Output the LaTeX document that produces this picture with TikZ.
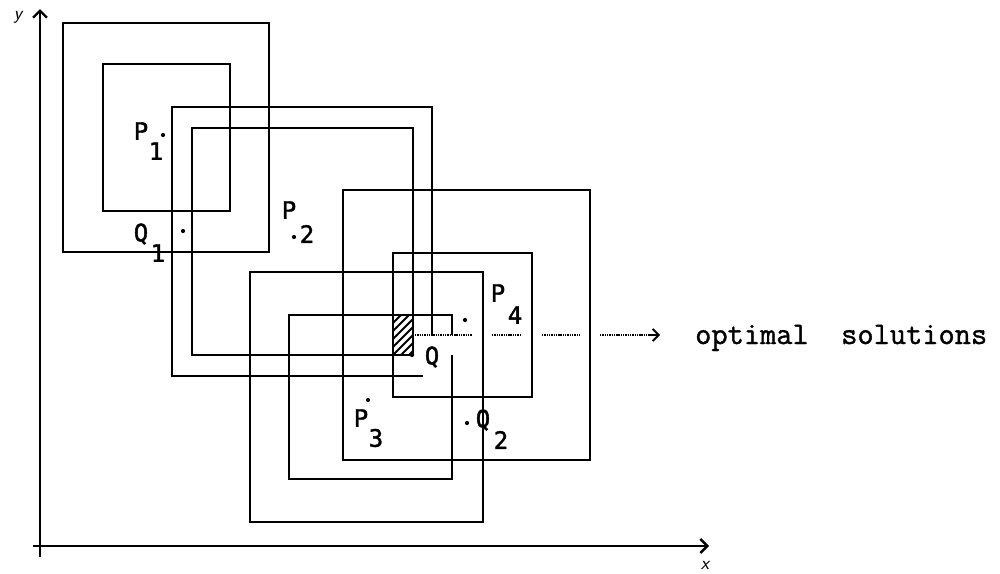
\documentclass[tikz,border=0pt]{standalone}
\usepackage{fontspec}
\newfontfamily\lblfont[FakeBold=1.6]{DejaVu Sans Mono}
\newfontfamily\optfont[FakeBold=1.2]{Latin Modern Mono}
\usetikzlibrary{arrows.meta,calc}
\begin{document}
\begin{tikzpicture}[x=1pt,y=-1pt,
  box/.style={draw,line width=2.4pt,line join=miter},
  lbl/.style={font=\lblfont\fontsize{24}{24}\selectfont,inner sep=0pt},
  dotpt/.style={circle,fill,inner sep=0pt,minimum size=4.2pt},
  axis/.style={line width=2.6pt,-{Straight Barb[length=7pt,width=14pt,line width=2.4pt]}},
  dotline/.style={line width=1.4pt,dash pattern=on 1.4pt off 0.9pt}]
\useasboundingbox (0,0) rectangle (1000,573);
% axes
\coordinate (o1) at (40,557);
\coordinate (ytop) at (40,9);
\coordinate (o2) at (33,546);
\coordinate (xend) at (709,546);
\draw[axis] (o1) -- (ytop);
\draw[axis] (o2) -- (xend);
\node[font=\sffamily\itshape\fontsize{19}{19}\selectfont,inner sep=0pt] (ylab) at (18,17) {y};
\node[font=\sffamily\itshape\fontsize{19}{19}\selectfont,inner sep=0pt] (xlab) at (705,565) {x};
% hatched intersection
\begin{scope}
\clip (393,315) rectangle (413,355);
\foreach \k in {-48,-40,...,24} \draw[line width=1.9pt] (393+\k,355) -- (433+\k,315);
\end{scope}
% rectangles
\draw[box] (63,23) rectangle (269,252);
\draw[box] (103,64) rectangle (230,211);
\draw[box] (423,376) -- (172,376) -- (172,107) -- (432,107) -- (432,335);
\draw[box] (192,128) rectangle (413,355);
\draw[box] (483,410) -- (483,522) -- (250,522) -- (250,272) -- (483,272) -- (483,410);
\draw[box] (483,438) -- (483,522);
\draw[box] (452,335) -- (452,315) -- (289,315) -- (289,479) -- (452,479) -- (452,355);
\draw[box] (343,190) rectangle (590,460);
\draw[box] (393,253) rectangle (532,397);
% labels
\node[lbl] (p1) at (141,131) {P};
\node[lbl] (p1s) at (156,151) {1};
\node[dotpt] (p1d) at (163,135) {};
\node[lbl] (q1) at (141,234) {Q};
\node[lbl] (q1s) at (158,253) {1};
\node[dotpt] (q1d) at (183,231) {};
\node[lbl] (p2) at (289,210) {P};
\node[dotpt] (p2d) at (294,237) {};
\node[lbl] (p2s) at (307,234) {2};
\node[lbl] (p4) at (498,293) {P};
\node[lbl] (p4s) at (515,315) {4};
\node[dotpt] (p4d) at (465,320) {};
\node[lbl] (q) at (432,357) {Q};
\node[dotpt] (qd) at (412,355) {};
\node[lbl] (p3) at (361,418) {P};
\node[dotpt] (p3d) at (368,400) {};
\node[lbl] (p3s) at (376,438) {3};
\node[dotpt] (q2d) at (467,423) {};
\node[lbl] (q2) at (483,420) {Q};
\node[lbl] (q2s) at (501,440) {2};
% optimal solutions
\node[font=\optfont\fontsize{31.5}{31.5}\selectfont,inner sep=0pt,anchor=base west] (opt) at (695,344) {optimal\ \ solutions};
\coordinate (d1) at (415,335);
\coordinate (d2) at (472,335);
\coordinate (d3) at (492,335);
\coordinate (d4) at (520,335);
\coordinate (d5) at (542,335);
\coordinate (d6) at (580,335);
\coordinate (d7) at (600,335);
\coordinate (tip) at (660,335);
\coordinate (tipb) at (648,335);
\draw[dotline] (d1) -- (d2);
\draw[dotline] (d3) -- (d4);
\draw[dotline] (d5) -- (d6);
\draw[dotline] (d7) -- (tipb);
\draw[line width=1.8pt,-{Straight Barb[length=6pt,width=12pt,line width=1.8pt]}] (tipb) -- (tip);
\end{tikzpicture}
\end{document}
